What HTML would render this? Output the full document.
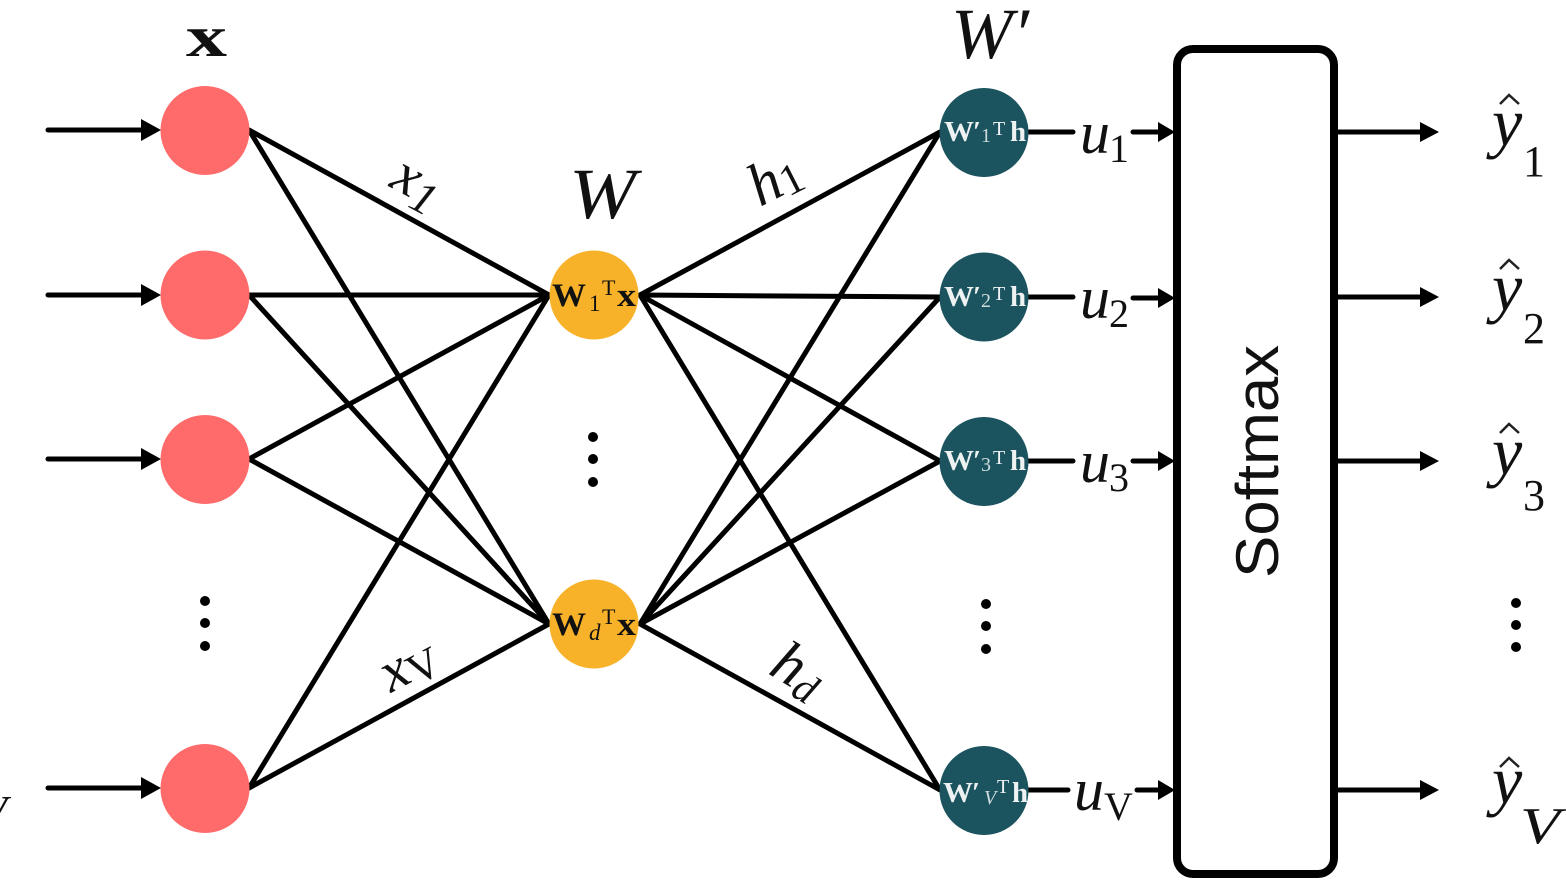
<!DOCTYPE html>
<html><head><meta charset="utf-8"><style>
html,body{margin:0;padding:0;background:#fff;width:1566px;height:882px;overflow:hidden}
svg{display:block}
text{font-family:"Liberation Serif",serif;fill:#111}
.i{font-style:italic}
.oW{font-weight:bold;font-size:33px}
.oS{font-size:23px}
.oT{font-size:22px}
.tW{font-weight:bold;font-size:29px;fill:#eef2f2}
.tS{font-size:20px;fill:#cfdcdc}
.tT{font-size:20px;fill:#eef2f2}
</style></head><body>
<svg width="1566" height="882" viewBox="0 0 1566 882" xmlns="http://www.w3.org/2000/svg">
<g stroke="#000" stroke-width="5" stroke-linecap="round" fill="none">
<path d="M249 130L549 295M249 130L549 624M249 295L549 295M249 295L549 624M249 459L549 295M249 459L549 624M249 788L549 295M249 788L549 624"/>
<path d="M640 295L940 132M640 295L940 297M640 295L940 461M640 295L940 790M640 624L940 132M640 624L940 297M640 624L940 461M640 624L940 790"/>
<path d="M48 130H142M48 295H142M48 459H142M48 788H142"/>
<path d="M1028 132H1073M1028 297H1073M1028 461H1073M1028 790H1068"/>
<path d="M1133 132H1160M1133 298H1160M1133 461H1160M1137 790H1160"/>
<path d="M1337 132H1422M1337 297H1422M1337 461H1422M1337 790H1422"/>
</g>
<g fill="#000">
<path d="M141 119L161 130L141 141ZM141 284L161 295L141 306ZM141 448L161 459L141 470ZM141 777L161 788L141 799Z"/>
<path d="M1158 122L1175 132L1158 142ZM1158 288L1175 298L1158 308ZM1158 451L1175 461L1158 471ZM1158 780L1175 790L1158 800Z"/>
<path d="M1420 122L1439 132L1420 142ZM1420 287L1439 297L1420 307ZM1420 451L1439 461L1420 471ZM1420 780L1439 790L1420 800Z"/>
</g>
<g fill="#ff6b6b">
<circle cx="205" cy="130.500" r="44.500"/><circle cx="205" cy="295" r="44.500"/><circle cx="205" cy="459.500" r="44.500"/><circle cx="205" cy="788.500" r="44.500"/>
</g>
<g fill="#f8b229"><circle cx="594" cy="295" r="44.500"/><circle cx="594" cy="624" r="44.500"/></g>
<g fill="#1b535f"><circle cx="984" cy="132.500" r="44.500"/><circle cx="984" cy="297" r="44.500"/><circle cx="984" cy="461.500" r="44.500"/><circle cx="984" cy="790.500" r="44.500"/></g>
<rect x="1177" y="49" width="157" height="825" rx="16" fill="#fff" stroke="#000" stroke-width="8"/>
<g fill="#000">
<circle cx="205" cy="601" r="5"/><circle cx="205" cy="623" r="5"/><circle cx="205" cy="646" r="5"/>
<circle cx="593" cy="437" r="5"/><circle cx="593" cy="459" r="5"/><circle cx="593" cy="482" r="5"/>
<circle cx="986" cy="604" r="5"/><circle cx="986" cy="626" r="5"/><circle cx="986" cy="649" r="5"/>
<circle cx="1516" cy="603" r="5"/><circle cx="1516" cy="625" r="5"/><circle cx="1516" cy="647" r="5"/>
</g>
<text x="186" y="56" font-weight="bold" font-size="58" textLength="41" lengthAdjust="spacingAndGlyphs">x</text>
<text x="569" y="218" class="i" font-size="72" textLength="67" lengthAdjust="spacingAndGlyphs">W</text>
<text x="951" y="58" class="i" font-size="72" textLength="78" lengthAdjust="spacingAndGlyphs">W′</text>
<text transform="translate(1278 578) rotate(-90)" font-size="60" textLength="233" lengthAdjust="spacingAndGlyphs" style="font-family:'Liberation Sans',sans-serif">Softmax</text>
<text transform="translate(388 186) rotate(28)" class="i" font-size="58">x<tspan font-size="46" dy="9">1</tspan></text>
<text transform="translate(760 207) rotate(-27)" class="i" font-size="60">h<tspan font-size="44" dy="4" font-style="normal">1</tspan></text>
<text transform="translate(391 693) rotate(-28)" class="i" font-size="58">x<tspan font-size="44" dy="6" font-style="normal">V</tspan></text>
<text transform="translate(767 673) rotate(31)" class="i" font-size="60">h<tspan font-size="42" dy="7">d</tspan></text>

<text x="552" y="306" class="oW" textLength="34" lengthAdjust="spacingAndGlyphs">W</text>
<text x="589" y="311" class="oS">1</text>
<text x="602" y="295" class="oT">T</text>
<text x="617" y="306" class="oW" textLength="19" lengthAdjust="spacingAndGlyphs">x</text>

<text x="552" y="635" class="oW" textLength="34" lengthAdjust="spacingAndGlyphs">W</text>
<text x="589" y="640" class="oS i">d</text>
<text x="602" y="624" class="oT">T</text>
<text x="617" y="635" class="oW" textLength="19" lengthAdjust="spacingAndGlyphs">x</text>

<text x="944" y="141" class="tW" textLength="30" lengthAdjust="spacingAndGlyphs">W</text><text x="973" y="141" class="tW">′</text>
<text x="981" y="142" class="tS">1</text><text x="993" y="135" class="tT">T</text><text x="1010" y="141" class="tW">h</text>
<text x="944" y="306" class="tW" textLength="30" lengthAdjust="spacingAndGlyphs">W</text><text x="973" y="306" class="tW">′</text>
<text x="981" y="307" class="tS">2</text><text x="993" y="300" class="tT">T</text><text x="1010" y="306" class="tW">h</text>
<text x="944" y="470" class="tW" textLength="30" lengthAdjust="spacingAndGlyphs">W</text><text x="973" y="470" class="tW">′</text>
<text x="981" y="471" class="tS">3</text><text x="993" y="464" class="tT">T</text><text x="1010" y="470" class="tW">h</text>
<text x="943" y="802" class="tW" textLength="30" lengthAdjust="spacingAndGlyphs">W</text><text x="972" y="802" class="tW">′</text>
<text x="984" y="804" class="tS i">V</text><text x="997" y="793" class="tT">T</text><text x="1012" y="802" class="tW">h</text>

<text x="1080" y="153" class="i" font-size="60">u</text><text x="1109" y="162" font-size="40">1</text>
<text x="1080" y="318" class="i" font-size="60">u</text><text x="1109" y="327" font-size="40">2</text>
<text x="1080" y="482" class="i" font-size="60">u</text><text x="1109" y="491" font-size="40">3</text>
<text x="1074" y="810" class="i" font-size="60">u</text><text x="1104" y="820" font-size="40">V</text>

<g fill="none" stroke="#222" stroke-width="2.5">
<path d="M1500 104L1509 95L1519 104M1500 269L1509 260L1519 269M1500 433L1509 424L1519 433M1500 767L1509 758L1519 767"/>
</g>
<text x="1492" y="145" class="i" font-size="68">y</text><text x="1523" y="176" font-size="44">1</text>
<text x="1492" y="310" class="i" font-size="68">y</text><text x="1523" y="343" font-size="44">2</text>
<text x="1492" y="474" class="i" font-size="68">y</text><text x="1523" y="510" font-size="44">3</text>
<text x="1492" y="803" class="i" font-size="68">y</text><text x="1520" y="843" class="i" font-size="52" textLength="40" lengthAdjust="spacingAndGlyphs">V</text>
<text x="-20" y="826" class="i" font-size="44">V</text>
</svg>
</body></html>
